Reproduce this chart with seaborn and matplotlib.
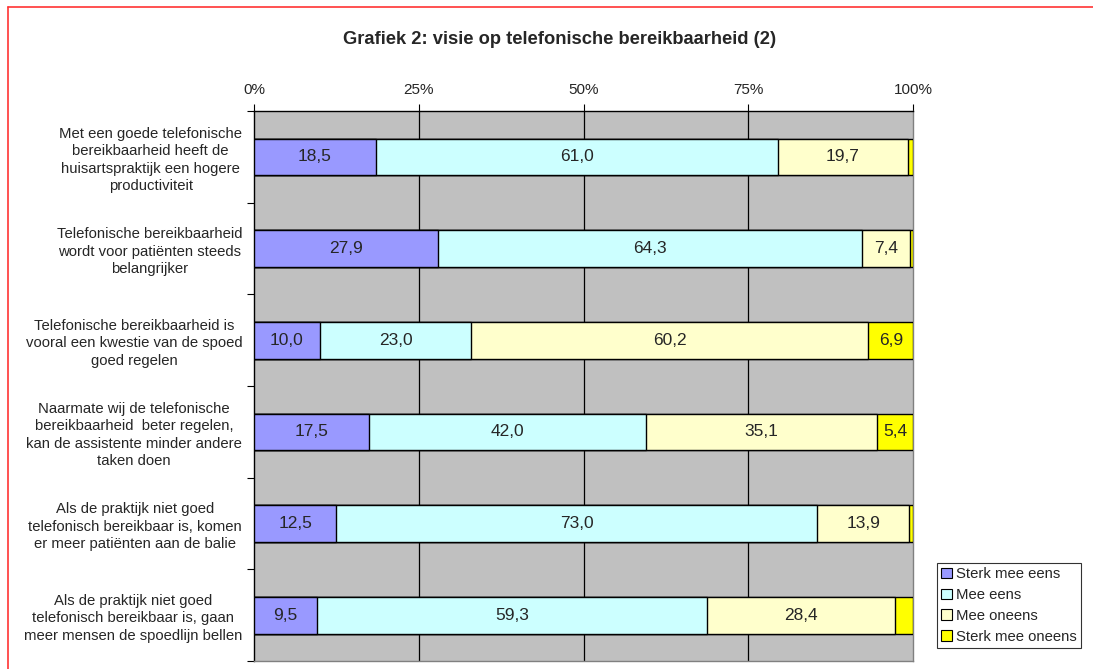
import numpy as np
import pandas as pd
import matplotlib.pyplot as plt
import seaborn as sns
from matplotlib.patches import Patch
from matplotlib.lines import Line2D

# data
stellingen = [
    'Met een goede telefonische\nbereikbaarheid heeft de\nhuisartspraktijk een hogere\nproductiviteit',
    'Telefonische bereikbaarheid\nwordt voor patiënten steeds\nbelangrijker',
    'Telefonische bereikbaarheid is\nvooral een kwestie van de spoed\ngoed regelen',
    'Naarmate wij de telefonische\nbereikbaarheid  beter regelen,\nkan de assistente minder andere\ntaken doen',
    'Als de praktijk niet goed\ntelefonisch bereikbaar is, komen\ner meer patiënten aan de balie',
    'Als de praktijk niet goed\ntelefonisch bereikbaar is, gaan\nmeer mensen de spoedlijn bellen',
]
sterk_eens = [18.5, 27.9, 10.0, 17.5, 12.5, 9.5]
eens = [61.0, 64.3, 23.0, 42.0, 73.0, 59.3]
oneens = [19.7, 7.4, 60.2, 35.1, 13.9, 28.4]
sterk_oneens = [0.8, 0.4, 6.9, 5.4, 0.6, 2.8]

series = ['Sterk mee eens', 'Mee eens', 'Mee oneens', 'Sterk mee oneens']
kleuren = ['#9999FF', '#CCFFFF', '#FFFFCC', '#FFFF00']

df = pd.DataFrame({'stelling': stellingen,
                   series[0]: sterk_eens, series[1]: eens,
                   series[2]: oneens, series[3]: sterk_oneens})
cum = df[series].cumsum(axis=1).clip(upper=100)

sns.set_style('white')
plt.rcParams['font.family'] = ['Liberation Sans', 'DejaVu Sans']

fig = plt.figure(figsize=(10.93, 6.69), dpi=100)
ax = fig.add_axes([254 / 1093, 1 - 661 / 669, 659 / 1093, 550 / 669])
ax.set_facecolor('#C0C0C0')

# gestapeld: cumulatieve balken van achter naar voren
for i in range(len(series) - 1, -1, -1):
    sns.barplot(x=cum[series[i]], y=df['stelling'], orient='h', color=kleuren[i],
                saturation=1, edgecolor='black', linewidth=1.0, width=0.4, ax=ax, zorder=3)

# waardelabels
starts = cum.shift(1, axis=1).fillna(0)
for r in range(len(df)):
    for s in series:
        v = df.loc[r, s]
        if v >= 5:
            ax.text(starts.loc[r, s] + v / 2, r, f'{v:.1f}'.replace('.', ','),
                    ha='center', va='center', fontsize=12.5, zorder=5)

ax.set_xlim(0, 100)
ax.set_ylim(len(df) - 0.5, -0.5)
ax.set_xticks([0, 25, 50, 75, 100])
ax.set_xticklabels(['0%', '25%', '50%', '75%', '100%'])
ax.xaxis.tick_top()
ax.tick_params(axis='x', top=True, bottom=False, direction='out', length=5,
               width=0.8, color='black', labelsize=11, pad=5)
ax.set_yticks(range(len(df)))
ax.set_yticklabels(stellingen, fontsize=10.7, multialignment='center', linespacing=1.32)
ax.tick_params(axis='y', left=False, pad=5)
ax.set_yticks(np.arange(-0.5, len(df), 1), minor=True)
ax.tick_params(axis='y', which='minor', left=True, length=5, width=0.8, color='black')
ax.set_xlabel('')
ax.set_ylabel('')

for x in [25, 50, 75]:
    ax.axvline(x, color='black', linewidth=0.9, zorder=1)

ax.spines['left'].set_color('black')
ax.spines['top'].set_color('black')
ax.spines['right'].set_color('#808080')
ax.spines['bottom'].set_color('#808080')
for sp in ax.spines.values():
    sp.set_linewidth(1.0)
    sp.set_visible(True)

fig.text(560 / 1093, 1 - 40 / 669, 'Grafiek 2: visie op telefonische bereikbaarheid (2)',
         ha='center', va='center', fontsize=13.2, fontweight='bold')

handles = [Patch(facecolor=k, edgecolor='black', linewidth=0.8) for k in kleuren]
leg = fig.legend(handles, series, loc='upper left', bbox_to_anchor=(937 / 1093, 1 - 563 / 669),
                 frameon=True, fancybox=False, fontsize=10.7, handlelength=0.7, handleheight=0.7,
                 handletextpad=0.25, borderpad=0.3, labelspacing=0.45, borderaxespad=0)
leg.get_frame().set_edgecolor('black')
leg.get_frame().set_linewidth(0.8)

# rode rand
fig.add_artist(Line2D([8 / 1093, 8 / 1093], [0, 1 - 7 / 669], color='#FF3333', linewidth=1.2))
fig.add_artist(Line2D([8 / 1093, 1], [1 - 7 / 669, 1 - 7 / 669], color='#FF3333', linewidth=1.2))

fig.savefig('out.png', dpi=100)
